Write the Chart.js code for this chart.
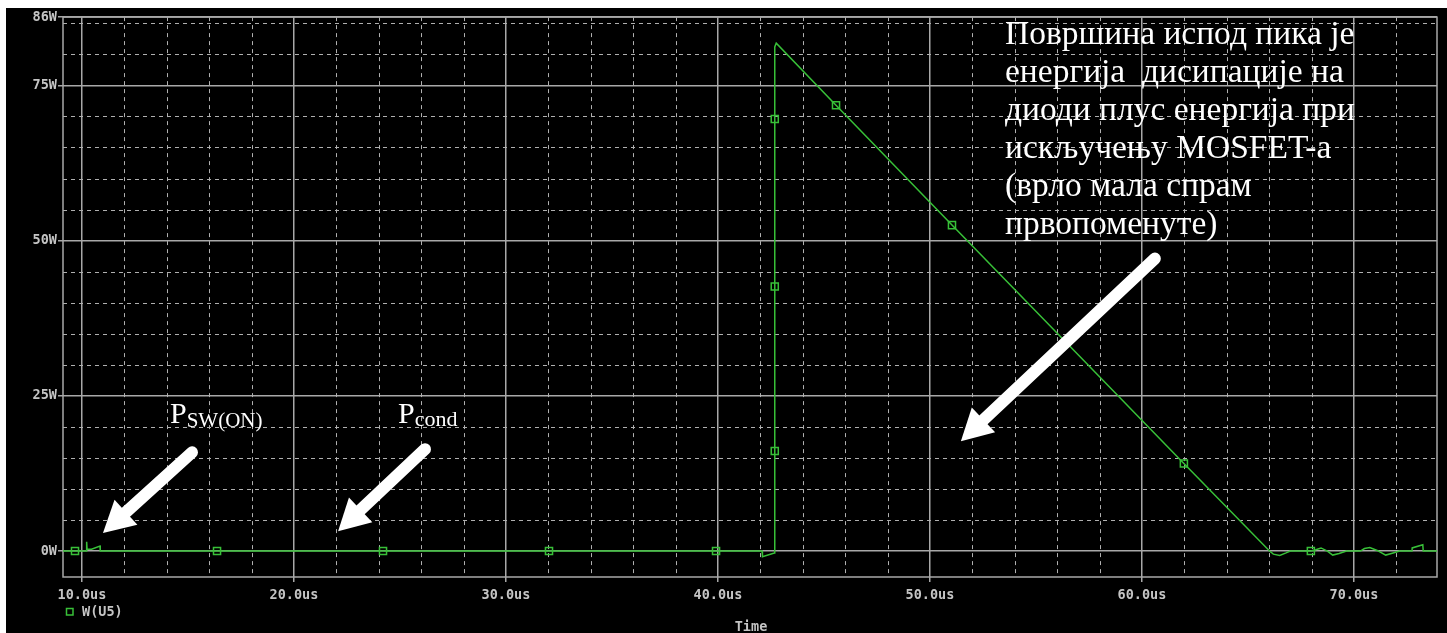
<!DOCTYPE html>
<html>
<head>
<meta charset="utf-8">
<script src="https://cdn.jsdelivr.net/npm/chart.js@4.4.1/dist/chart.umd.min.js"></script>
<style>
  html, body { margin: 0; padding: 0; background: #fff; width: 1447px; height: 633px; overflow: hidden; }
  #scope { position: absolute; left: 6px; top: 8px; width: 1441px; height: 625px; background: #000; }
  canvas { display: block; }
</style>
</head>
<body>
<div id="scope"><canvas id="c"></canvas></div>
<script>
// Transient power of U5, W(U5): time in microseconds, power in watts
const traceTime = [
  9.10, 9.67, 10.22, 10.22, 10.24, 10.45, 10.85, 10.86, 16.37, 24.20, 32.03, 39.91,
  42.08, 42.10, 42.66, 42.68, 42.68, 42.68, 42.68, 42.75,
  45.57, 51.04, 61.98, 66.02,
  66.20, 66.50, 66.80, 67.00, 67.97, 68.20, 68.45, 68.75, 69.00, 69.30, 69.65,
  70.30, 70.50, 70.75, 71.10, 71.50, 71.85, 72.15, 72.74, 72.75, 73.25, 73.27, 73.92
];
const traceWatts = [
  0, 0, 0, 1.5, 0.3, 0.3, 0.8, 0, 0, 0, 0, 0,
  0, -0.9, -0.3, 16.1, 42.6, 69.6, 81.2, 81.8,
  71.8, 52.5, 14.1, 0,
  -0.5, -0.7, -0.3, 0, 0, 0.2, 0.5, 0, -0.65, -0.4, 0,
  0, 0.4, 0.55, 0.1, -0.65, -0.3, 0, 0, 0.5, 1.0, 0, 0
];
// Trace points that carry the square data marker
const markerPoints = [
  [9.67, 0], [16.37, 0], [24.20, 0], [32.03, 0], [39.91, 0],
  [42.68, 16.1], [42.68, 42.6], [42.68, 69.6],
  [45.57, 71.8], [51.04, 52.5], [61.98, 14.1], [67.97, 0]
];
const xTickValues = [10, 20, 30, 40, 50, 60, 70];
const yTickValues = [0, 25, 50, 75, 86];
const seriesName = 'W(U5)';
const xAxisName = 'Time';

const noteLines = [
  'Површина испод пика је',
  'енергија  дисипације на',
  'диоди плус енергија при',
  'искључењу MOSFET-а',
  '(врло мала спрам',
  'првопоменуте)'
];

const TRACE = '#38c038';
const AXIS_TEXT = '#c4c4c4';
const MONO = '"DejaVu Sans Mono", monospace';
const SERIF = '"Liberation Serif", serif';

const isMarker = p => p && markerPoints.some(m => m[0] === p.x && m[1] === p.y);

// dashed minor grid + plot frame
const scopeGrid = {
  id: 'scopeGrid',
  beforeDatasetsDraw(chart) {
    const { ctx, chartArea: a, scales: { x, y } } = chart;
    ctx.save();
    ctx.strokeStyle = '#b0b0b0';
    ctx.lineWidth = 1;
    ctx.setLineDash([4, 4]);
    for (let t = 10; t < x.max; t += 2) {
      if (t % 10 === 0) continue;
      const px = Math.round(x.getPixelForValue(t)) + 0.5;
      ctx.beginPath(); ctx.moveTo(px, a.top); ctx.lineTo(px, a.bottom); ctx.stroke();
    }
    for (let w = 5; w < y.max; w += 5) {
      if (w % 25 === 0) continue;
      const py = Math.round(y.getPixelForValue(w)) + 0.5;
      ctx.beginPath(); ctx.moveTo(a.left, py); ctx.lineTo(a.right, py); ctx.stroke();
    }
    ctx.setLineDash([]);
    ctx.strokeStyle = '#a8a8a8';
    ctx.lineWidth = 1.5;
    ctx.strokeRect(a.left, a.top, a.width, a.height);
    ctx.restore();
  }
};

function drawArrow(ctx, x0, y0, x1, y1) {
  const dx = x1 - x0, dy = y1 - y0, L = Math.hypot(dx, dy);
  const ux = dx / L, uy = dy / L;
  const headLen = 31, half = 17;
  const bx = x1 - ux * headLen, by = y1 - uy * headLen;
  ctx.strokeStyle = '#fff';
  ctx.fillStyle = '#fff';
  ctx.lineWidth = 12;
  ctx.lineCap = 'round';
  ctx.beginPath(); ctx.moveTo(x0, y0); ctx.lineTo(bx + ux * 3, by + uy * 3); ctx.stroke();
  ctx.beginPath();
  ctx.moveTo(x1, y1);
  ctx.lineTo(bx - uy * half, by + ux * half);
  ctx.lineTo(bx + uy * half, by - ux * half);
  ctx.closePath();
  ctx.fill();
}

// callouts, legend entry and axis name
const callouts = {
  id: 'callouts',
  afterDatasetsDraw(chart) {
    const { ctx, scales: { x, y } } = chart;
    const X = v => x.getPixelForValue(v), Y = v => y.getPixelForValue(v);
    ctx.save();

    drawArrow(ctx, X(15.19), Y(15.9), X(10.99), Y(2.9));
    drawArrow(ctx, X(26.18), Y(16.4), X(22.08), Y(3.2));
    drawArrow(ctx, X(60.61), Y(47.1), X(51.46), Y(17.7));

    ctx.fillStyle = '#fff';
    ctx.textBaseline = 'alphabetic';
    ctx.textAlign = 'left';
    // P_SW(ON)
    let px = X(14.15), py = Y(20.6);
    ctx.font = '30px ' + SERIF;
    ctx.fillText('P', px, py);
    px += ctx.measureText('P').width;
    ctx.font = '21px ' + SERIF;
    ctx.fillText('SW(ON)', px, py + 4);
    // P_cond
    px = X(24.91);
    ctx.font = '30px ' + SERIF;
    ctx.fillText('P', px, py);
    px += ctx.measureText('P').width;
    ctx.font = '22px ' + SERIF;
    ctx.fillText('cond', px, py + 3);

    // explanatory note
    ctx.font = '32px ' + SERIF;
    const w3 = ctx.measureText(noteLines[2]).width;
    const size = Math.max(26, Math.min(36, 32 * 350 / w3));
    ctx.font = size.toFixed(1) + 'px ' + SERIF;
    const nx = X(53.54), ny = Y(81.66);
    noteLines.forEach((s, i) => ctx.fillText(s, nx, ny + i * 38));

    // legend entry
    ctx.strokeStyle = TRACE;
    ctx.lineWidth = 1.5;
    ctx.strokeRect(60.5, 600.5, 6.5, 6.5);
    ctx.fillStyle = AXIS_TEXT;
    ctx.font = 'bold 13.5px ' + MONO;
    ctx.textBaseline = 'middle';
    ctx.fillText(seriesName, 76, 604);
    ctx.textAlign = 'center';
    ctx.fillText(xAxisName, 745, 619);
    ctx.restore();
  }
};

const tickFont = { family: 'DejaVu Sans Mono', size: 13.5, weight: 'bold' };

new Chart(document.getElementById('c'), {
  type: 'line',
  data: {
    datasets: [{
      label: seriesName,
      data: traceTime.map((t, i) => ({ x: t, y: traceWatts[i] })),
      borderColor: TRACE,
      borderWidth: 1.5,
      tension: 0,
      fill: false,
      pointStyle: 'rect',
      pointRadius: c => isMarker(c.raw) ? 5 : 0,
      pointHoverRadius: 0,
      pointBorderColor: TRACE,
      pointBackgroundColor: 'rgba(0,0,0,0)',
      pointBorderWidth: 1.5
    }]
  },
  options: {
    responsive: true,
    maintainAspectRatio: false,
    animation: false,
    events: [],
    layout: { padding: { top: 8, right: 10, left: 0, bottom: 0 } },
    plugins: { legend: { display: false }, tooltip: { enabled: false } },
    scales: {
      x: {
        type: 'linear',
        min: 9.104,
        max: 73.92,
        afterBuildTicks: s => { s.ticks = xTickValues.map(v => ({ value: v })); },
        afterFit: s => { s.height = 56; },
        grid: { color: '#a8a8a8', lineWidth: 1.5, tickLength: 5, tickColor: '#a8a8a8' },
        border: { display: false },
        ticks: { color: AXIS_TEXT, font: tickFont, padding: 5, maxRotation: 0, autoSkip: false,
                 callback: v => v.toFixed(1) + 'us' }
      },
      y: {
        type: 'linear',
        min: -4.18,
        max: 86,
        afterBuildTicks: s => { s.ticks = yTickValues.map(v => ({ value: v })); },
        afterFit: s => { s.width = 57; },
        grid: { color: '#a8a8a8', lineWidth: 1.5, tickLength: 5, tickColor: '#a8a8a8' },
        border: { display: false },
        ticks: { color: AXIS_TEXT, font: tickFont, padding: 1, callback: v => v + 'W' }
      }
    }
  },
  plugins: [scopeGrid, callouts]
});
</script>
</body>
</html>
